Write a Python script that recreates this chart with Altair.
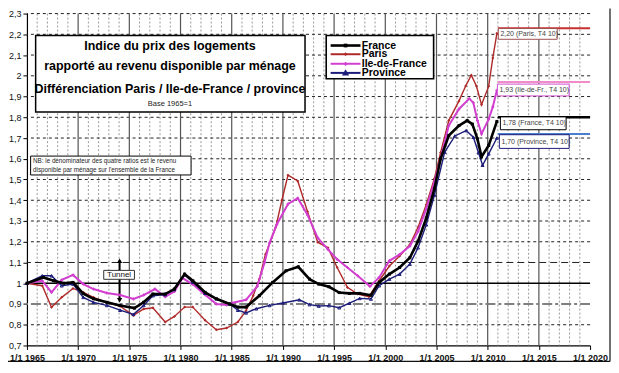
import altair as alt
import pandas as pd

FONT = "Liberation Sans"

# ---------------- data ----------------
france_years = [1965.0, 1966.6, 1967.6, 1968.6, 1969.5, 1970.5, 1971.5, 1972.8, 1974.1, 1975.5,
                1976.4, 1977.3, 1978.5, 1979.4, 1980.4, 1981.2, 1982.4, 1983.5, 1984.8, 1985.6,
                1986.4, 1987.7, 1989.0, 1990.3, 1991.5, 1992.6, 1993.5, 1994.5, 1995.5, 1996.5,
                1997.5, 1998.6, 1999.4, 2000.4, 2001.4, 2002.4, 2003.2, 2004.0, 2004.8, 2005.4,
                2006.2, 2007.2, 2008.0, 2008.5, 2009.0, 2009.4, 2010.1, 2010.9]
france_vals = [1.000, 1.028, 1.012, 1.000, 1.004, 0.950, 0.925, 0.908, 0.893, 0.880,
               0.908, 0.948, 0.948, 0.972, 1.044, 1.012, 0.956, 0.925, 0.900, 0.885,
               0.885, 0.940, 1.004, 1.060, 1.079, 1.020, 0.996, 0.983, 0.955, 0.951,
               0.951, 0.942, 1.004, 1.044, 1.076, 1.123, 1.203, 1.314, 1.457, 1.600,
               1.712, 1.760, 1.784, 1.767, 1.696, 1.610, 1.664, 1.780]

paris_years = [1965.0, 1966.5, 1967.4, 1968.4, 1969.5, 1970.5, 1971.5, 1972.8, 1974.1, 1975.4,
               1976.4, 1977.3, 1978.5, 1979.4, 1980.4, 1981.2, 1982.4, 1983.5, 1984.5, 1985.6,
               1986.4, 1987.1, 1987.7, 1988.3, 1989.3, 1989.9, 1990.5, 1991.45, 1992.4, 1993.4,
               1994.4, 1995.3, 1996.3, 1997.3, 1998.4, 1999.4, 2000.4, 2001.4, 2002.4, 2003.2,
               2004.0, 2004.8, 2005.4, 2006.2, 2007.2, 2007.85, 2008.4, 2008.9, 2009.4, 2010.1,
               2010.5, 2010.9]
paris_vals = [1.000, 0.988, 0.884, 0.932, 0.975, 0.956, 0.932, 0.908, 0.889, 0.845,
              0.876, 0.882, 0.813, 0.840, 0.885, 0.885, 0.822, 0.776, 0.784, 0.813,
              0.868, 0.940, 1.020, 1.140, 1.270, 1.400, 1.521, 1.493, 1.346, 1.198,
              1.171, 1.076, 0.980, 0.948, 0.935, 1.012, 1.083, 1.131, 1.187, 1.270,
              1.378, 1.505, 1.630, 1.784, 1.879, 1.951, 2.003, 1.951, 1.860, 1.950,
              2.086, 2.205]

idf_years = [1965.0, 1966.5, 1967.4, 1968.4, 1969.5, 1970.5, 1971.5, 1972.8, 1974.1, 1975.4,
             1976.4, 1977.5, 1978.5, 1979.4, 1980.2, 1981.2, 1982.4, 1983.5, 1984.5, 1985.0,
             1986.4, 1987.5, 1988.2, 1988.7, 1989.4, 1990.5, 1991.45, 1992.4, 1993.4, 1994.4,
             1995.3, 1996.3, 1997.3, 1998.5, 1999.4, 2000.4, 2001.4, 2002.4, 2003.2, 2004.0,
             2004.8, 2005.4, 2006.2, 2007.2, 2008.2, 2008.6, 2009.0, 2009.4, 2010.1, 2010.5,
             2010.9]
idf_vals = [1.000, 1.012, 0.956, 1.016, 1.040, 0.996, 0.972, 0.953, 0.943, 0.924,
            0.943, 0.972, 0.935, 0.960, 1.025, 0.995, 0.945, 0.900, 0.895, 0.905,
            0.920, 0.985, 1.099, 1.195, 1.283, 1.382, 1.410, 1.330, 1.219, 1.163,
            1.115, 1.076, 1.036, 0.985, 1.028, 1.108, 1.139, 1.179, 1.250, 1.360,
            1.489, 1.600, 1.760, 1.840, 1.890, 1.870, 1.784, 1.720, 1.791, 1.850,
            1.930]

prov_years = [1965.0, 1966.5, 1967.4, 1968.4, 1969.5, 1970.5, 1971.5, 1972.8, 1974.1, 1975.4,
              1976.4, 1977.3, 1978.5, 1979.4, 1980.4, 1981.2, 1982.4, 1983.5, 1984.8, 1985.6,
              1986.4, 1987.4, 1988.7, 1990.0, 1991.6, 1992.6, 1993.5, 1994.5, 1995.5, 1996.5,
              1997.5, 1998.6, 1999.4, 2000.4, 2001.4, 2002.4, 2003.2, 2004.0, 2004.8, 2005.8,
              2006.8, 2007.9, 2008.6, 2009.1, 2009.5, 2010.1, 2010.9]
prov_vals = [1.000, 1.036, 1.036, 0.988, 0.996, 0.932, 0.908, 0.893, 0.870, 0.850,
             0.893, 0.940, 0.945, 0.970, 1.040, 1.005, 0.952, 0.925, 0.900, 0.870,
             0.857, 0.877, 0.893, 0.905, 0.920, 0.897, 0.890, 0.892, 0.882, 0.904,
             0.927, 0.924, 0.988, 1.020, 1.044, 1.092, 1.171, 1.282, 1.425, 1.632,
             1.710, 1.736, 1.704, 1.630, 1.569, 1.624, 1.700]

series_names = ["France", "Paris", "Ile-de-France", "Province"]
series_colors = ["#000000", "#b02a2a", "#d23ed0", "#1c1c7a"]
series_widths = [2.6, 1.4, 2.0, 1.4]
series_shapes = ["square", "diamond", "cross", "triangle-up"]
series_filled = [True, True, True, False]
series_data = [(france_years, france_vals), (paris_years, paris_vals),
               (idf_years, idf_vals), (prov_years, prov_vals)]

# end-of-series levels carried to 2020 and their labels
ext_names = ["Paris", "Ile-de-France", "France", "Province"]
ext_levels = [2.229, 1.970, 1.800, 1.720]
ext_colors = ["#c83030", "#f08cc8", "#000000", "#4a7fd0"]
ext_widths = [2.0, 2.0, 2.6, 2.0]
ext_start, ext_end = 2011.0, 2020.0
end_labels = ["2,20 (Paris, T4 10)", "1,93 (Ile-de-Fr., T4 10)", "1,78 (France, T4 10)", "1,70 (Province, T4 10)"]
end_box_x0 = [2011.04, 2010.95, 2011.24, 2011.14]
end_box_x1 = [2016.79, 2017.96, 2017.66, 2017.96]
end_box_y0 = [2.228, 1.960, 1.802, 1.716]
end_box_y1 = [2.176, 1.903, 1.740, 1.650]
end_box_colors = ["#a05050", "#d050d0", "#000000", "#1c1c7a"]

x_ticks = list(range(1965, 2021, 5))
y_ticks = [round(0.7 + 0.1 * i, 1) for i in range(17)]
minor_years = [y for y in range(1966, 2020) if y % 5 != 0]
major_years = [1970, 1975, 1980, 1985, 1990, 1995, 2000, 2005, 2010, 2015]
dashed_levels = [v for v in y_ticks if v not in (0.7, 0.9, 1.0, 1.1)]

title_lines = ["Indice du prix des logements",
               "rapporté au revenu disponible par ménage",
               "Différenciation Paris / Ile-de-France / province"]
title_line_y = [2.146, 2.047, 1.938]
title_x = 1978.97
base_text, base_y = "Base 1965=1", 1.866
title_box = dict(x0=1965.85, x1=1992.16, y0=2.194, y1=1.826)

nb_lines = ["NB: le dénominateur des quatre ratios est le revenu",
            "disponible par ménage sur l'ensemble de la France"]
nb_line_y = [1.590, 1.546]
nb_x = 1965.6
nb_box = dict(x0=1965.36, x1=1981.03, y0=1.613, y1=1.522)

legend_box = dict(x0=1994.23, x1=2004.72, y0=2.194, y1=1.986)
legend_x0, legend_x1, legend_tx = 1994.66, 1997.58, 1997.70
legend_y = [2.146, 2.104, 2.058, 2.014]

tunnel_box = dict(x0=1972.5, x1=1975.5, y0=1.062, y1=1.019)
tunnel_x, tunnel_ty = 1974.0, 1.040
tunnel_arrow_x, tunnel_top, tunnel_bottom = 1974.05, 1.108, 0.918

W, H = 565, 333

# ---------------- helpers ----------------
xscale = alt.Scale(domain=[1965, 2020], nice=False, zero=False)
yscale = alt.Scale(domain=[0.7, 2.3], nice=False, zero=False)
xaxis = alt.Axis(values=x_ticks, labelExpr="'1/1 ' + datum.value", grid=False, title=None,
                 domainColor="#000000", domainWidth=1.2, tickColor="#000000", tickSize=4,
                 labelFont=FONT, labelFontSize=9, labelFontWeight="bold", labelColor="#111111",
                 labelPadding=4, labelFlush=False, labelOverlap=False)
yaxis = alt.Axis(values=y_ticks, labelExpr="replace(format(datum.value, '.1~f'), '.', ',')",
                 grid=False, title=None, domainColor="#000000", domainWidth=1.2,
                 tickColor="#000000", tickSize=4, labelFont=FONT, labelFontSize=9,
                 labelColor="#111111", labelPadding=2, labelOverlap=False)


def X(f):
    return alt.X(f, type="quantitative", scale=xscale, axis=xaxis)


def Y(f):
    return alt.Y(f, type="quantitative", scale=yscale, axis=yaxis)


layers = []

# grid
layers.append(alt.Chart(pd.DataFrame({"yr": minor_years})).mark_rule(
    color="#9a9a9a", strokeWidth=1, strokeDash=[2, 2]).encode(x=X("yr")))
layers.append(alt.Chart(pd.DataFrame({"lv": dashed_levels})).mark_rule(
    color="#222222", strokeWidth=1, strokeDash=[3, 3]).encode(y=Y("lv")))
layers.append(alt.Chart(pd.DataFrame({"yr": major_years})).mark_rule(
    color="#555555", strokeWidth=1.2).encode(x=X("yr")))
layers.append(alt.Chart(pd.DataFrame({"lv": [1.1]})).mark_rule(
    color="#222222", strokeWidth=1, strokeDash=[7, 4]).encode(y=Y("lv")))
layers.append(alt.Chart(pd.DataFrame({"lv": [0.9]})).mark_rule(
    color="#808080", strokeWidth=2, strokeDash=[10, 3, 3, 3]).encode(y=Y("lv")))
layers.append(alt.Chart(pd.DataFrame({"lv": [1.0]})).mark_rule(
    color="#000000", strokeWidth=1.6).encode(y=Y("lv")))

# title box
tb = pd.DataFrame([title_box])
layers.append(alt.Chart(tb).mark_rect(fill="white", stroke="#000000", strokeWidth=1.5).encode(
    x=X("x0"), x2="x1", y=Y("y0"), y2="y1"))
layers.append(alt.Chart(pd.DataFrame({"t": title_lines, "y": title_line_y, "x": [title_x] * 3}))
              .mark_text(font=FONT, fontSize=12.5, fontWeight="bold", color="#000000",
                         align="center", baseline="middle")
              .encode(x=X("x"), y=Y("y"), text="t:N"))
layers.append(alt.Chart(pd.DataFrame({"t": [base_text], "y": [base_y], "x": [title_x]}))
              .mark_text(font=FONT, fontSize=7.5, color="#222222", align="center", baseline="middle")
              .encode(x=X("x"), y=Y("y"), text="t:N"))

# NB box
nb = pd.DataFrame([nb_box])
layers.append(alt.Chart(nb).mark_rect(fill="white", stroke="#000000", strokeWidth=1).encode(
    x=X("x0"), x2="x1", y=Y("y0"), y2="y1"))
layers.append(alt.Chart(pd.DataFrame({"t": nb_lines, "y": nb_line_y, "x": [nb_x] * 2}))
              .mark_text(font=FONT, fontSize=6.3, color="#222222", align="left", baseline="middle")
              .encode(x=X("x"), y=Y("y"), text="t:N"))

# tunnel annotation
ta = pd.DataFrame({"x": [tunnel_arrow_x], "y0": [tunnel_top], "y1": [tunnel_bottom]})
layers.append(alt.Chart(ta).mark_rule(color="#000000", strokeWidth=2).encode(
    x=X("x"), y=Y("y0"), y2="y1"))
layers.append(alt.Chart(pd.DataFrame({"x": [tunnel_arrow_x], "y": [tunnel_top]}))
              .mark_point(shape="triangle-up", filled=True, color="#000000", size=28, opacity=1)
              .encode(x=X("x"), y=Y("y")))
layers.append(alt.Chart(pd.DataFrame({"x": [tunnel_arrow_x], "y": [tunnel_bottom]}))
              .mark_point(shape="triangle-down", filled=True, color="#000000", size=28, opacity=1)
              .encode(x=X("x"), y=Y("y")))
layers.append(alt.Chart(pd.DataFrame([tunnel_box])).mark_rect(
    fill="white", stroke="#333333", strokeWidth=1).encode(x=X("x0"), x2="x1", y=Y("y0"), y2="y1"))
layers.append(alt.Chart(pd.DataFrame({"t": ["Tunnel"], "x": [tunnel_x], "y": [tunnel_ty]}))
              .mark_text(font=FONT, fontSize=8, color="#111111", align="center", baseline="middle")
              .encode(x=X("x"), y=Y("y"), text="t:N"))

# extension lines to 2020
ext = pd.DataFrame({"s": ext_names, "v": ext_levels, "x0": [ext_start] * 4, "x1": [ext_end] * 4})
for i, nm in enumerate(ext_names):
    layers.append(alt.Chart(ext[ext.s == nm]).mark_rule(
        color=ext_colors[i], strokeWidth=ext_widths[i]).encode(x=X("x0"), x2="x1", y=Y("v")))

# series (drawn in reverse so France on top)
order = [1, 2, 3, 0]
for i in order:
    yrs, vals = series_data[i]
    df = pd.DataFrame({"year": yrs, "value": vals})
    layers.append(alt.Chart(df).mark_line(color=series_colors[i], strokeWidth=series_widths[i])
                  .encode(x=X("year"), y=Y("value")))
    layers.append(alt.Chart(df).mark_point(shape=series_shapes[i], filled=series_filled[i],
                                           color=series_colors[i], size=9, opacity=1,
                                           strokeWidth=1)
                  .encode(x=X("year"), y=Y("value")))

# end labels
eb = pd.DataFrame({"t": end_labels, "x0": end_box_x0, "x1": end_box_x1,
                   "y0": end_box_y0, "y1": end_box_y1, "c": end_box_colors})
eb["ym"] = (eb.y0 + eb.y1) / 2
eb["tx"] = eb.x0 + 0.2
for i in range(4):
    layers.append(alt.Chart(eb.iloc[[i]]).mark_rect(fill="white", stroke=end_box_colors[i],
                                                     strokeWidth=1)
                  .encode(x=X("x0"), x2="x1", y=Y("y0"), y2="y1"))
layers.append(alt.Chart(eb).mark_text(font=FONT, fontSize=7, color="#444444", align="left",
                                      baseline="middle")
              .encode(x=X("tx"), y=Y("ym"), text="t:N"))

# legend
layers.append(alt.Chart(pd.DataFrame([legend_box])).mark_rect(
    fill="white", stroke="#000000", strokeWidth=1.6).encode(x=X("x0"), x2="x1", y=Y("y0"), y2="y1"))
for i, nm in enumerate(series_names):
    ld = pd.DataFrame({"x0": [legend_x0], "x1": [legend_x1], "y": [legend_y[i]],
                       "xm": [(legend_x0 + legend_x1) / 2], "tx": [legend_tx], "t": [nm]})
    layers.append(alt.Chart(ld).mark_rule(color=series_colors[i], strokeWidth=max(series_widths[i], 2))
                  .encode(x=X("x0"), x2="x1", y=Y("y")))
    layers.append(alt.Chart(ld).mark_point(shape=series_shapes[i], filled=series_filled[i],
                                           color=series_colors[i], size=14, opacity=1)
                  .encode(x=X("xm"), y=Y("y")))
    layers.append(alt.Chart(ld).mark_text(font=FONT, fontSize=10.5, fontWeight="bold",
                                          color="#000000", align="left", baseline="middle")
                  .encode(x=X("tx"), y=Y("y"), text="t:N"))

# outer frame (right and bottom edges)
frame = pd.DataFrame({"a": [0]})
layers.append(alt.Chart(frame).mark_rule(color="#111111", strokeWidth=1.2).encode(
    x=alt.value(W + 20), y=alt.value(-5), y2=alt.value(H + 16)))
layers.append(alt.Chart(frame).mark_rule(color="#111111", strokeWidth=1.2).encode(
    x=alt.value(-19), x2=alt.value(W + 20), y=alt.value(H + 16)))

chart = alt.layer(*layers).properties(
    width=W, height=H,
    autosize=alt.AutoSizeParams(type="none"),
    padding={"left": 19, "top": 5, "right": 21, "bottom": 18},
    background="white",
).configure_view(stroke=None)

chart.save("out.html", embed_options={"renderer": "svg", "actions": False})
